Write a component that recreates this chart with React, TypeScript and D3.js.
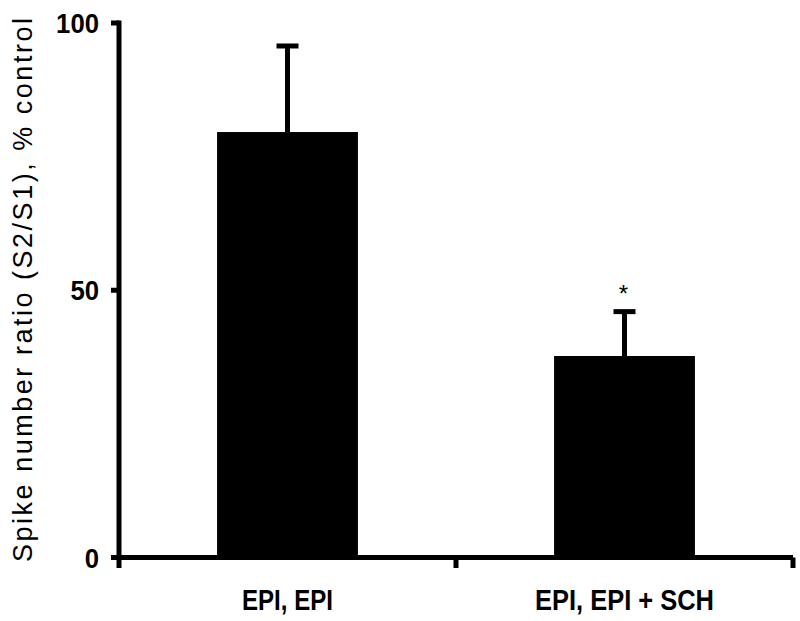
import { useEffect, useRef } from 'react';
import * as d3 from 'd3';

const categories = ['EPI, EPI', 'EPI, EPI + SCH'];
const means = [79.6, 37.7];
const errors = [16.1, 8.3];
const significant = [false, true];
const yTicks = [0, 50, 100];
const yLabel = 'Spike number ratio (S2/S1), % control';

export default function App() {
  const svgRef = useRef<SVGSVGElement | null>(null);

  useEffect(() => {
    if (!svgRef.current) return;
    const svg = d3.select(svgRef.current);
    svg.selectAll('*').remove();

    const width = 800;
    const height = 621;
    const left = 119;
    const right = 793;
    const font = '"Liberation Sans", Arial, sans-serif';

    const x = d3.scaleBand<string>().domain(categories).range([left, right]).padding(0);
    const y = d3.scaleLinear().domain([0, 100]).range([557.5, 23]);
    const barW = x.bandwidth() * 0.418;

    svg.attr('width', width).attr('height', height);

    // Bars
    const bars = svg.append('g');
    categories.forEach((c, i) => {
      const cx = x(c)! + x.bandwidth() / 2;
      bars
        .append('rect')
        .attr('x', cx - barW / 2)
        .attr('y', y(means[i]))
        .attr('width', barW)
        .attr('height', y(0) - y(means[i]))
        .attr('fill', '#000');

      // error bar (upper only)
      const top = y(means[i] + errors[i]);
      bars
        .append('line')
        .attr('x1', cx)
        .attr('x2', cx)
        .attr('y1', y(means[i]))
        .attr('y2', top)
        .attr('stroke', '#000')
        .attr('stroke-width', 5);
      bars
        .append('line')
        .attr('x1', cx - 11)
        .attr('x2', cx + 11)
        .attr('y1', top)
        .attr('y2', top)
        .attr('stroke', '#000')
        .attr('stroke-width', 5);

      if (significant[i]) {
        bars
          .append('text')
          .attr('x', cx - 1)
          .attr('y', top - 10)
          .attr('text-anchor', 'middle')
          .attr('font-family', font)
          .attr('font-size', 24)
          .attr('fill', '#000')
          .text('*');
      }

      // category label
      svg
        .append('text')
        .attr('x', cx)
        .attr('y', 610)
        .attr('text-anchor', 'middle')
        .attr('font-family', font)
        .attr('font-weight', 'bold')
        .attr('font-size', 29)
        .attr('textLength', i === 0 ? 91 : 179)
        .attr('lengthAdjust', 'spacingAndGlyphs')
        .attr('fill', '#000')
        .text(c);
    });

    // Y axis
    const axes = svg.append('g').attr('stroke', '#000').attr('stroke-width', 5).attr('fill', 'none');
    axes.append('line').attr('x1', left).attr('x2', left).attr('y1', y(100) - 2.5).attr('y2', 568);
    yTicks.forEach((t) => {
      axes
        .append('line')
        .attr('x1', left - 8)
        .attr('x2', left)
        .attr('y1', y(t))
        .attr('y2', y(t));
      svg
        .append('text')
        .attr('x', 99)
        .attr('y', y(t) + 10)
        .attr('text-anchor', 'end')
        .attr('font-family', font)
        .attr('font-weight', 'bold')
        .attr('font-size', 28)
        .attr('textLength', String(t).length * 14.3)
        .attr('lengthAdjust', 'spacingAndGlyphs')
        .attr('fill', '#000')
        .text(t);
    });

    // X axis
    axes.append('line').attr('x1', left).attr('x2', right).attr('y1', y(0)).attr('y2', y(0));
    const bounds = [x(categories[1])!, right];
    bounds.forEach((bx) => {
      axes.append('line').attr('x1', bx).attr('x2', bx).attr('y1', y(0)).attr('y2', 568);
    });

    // Y label
    svg
      .append('text')
      .attr('transform', `translate(32,${290}) rotate(-90)`)
      .attr('text-anchor', 'middle')
      .attr('font-family', font)
      .attr('font-size', 27)
      .attr('textLength', 544)
      .attr('lengthAdjust', 'spacing')
      .attr('fill', '#000')
      .text(yLabel);
  }, []);

  return (
    <svg
      ref={svgRef}
      style={{ position: 'absolute', left: 0, top: 0, display: 'block', background: '#fff' }}
    />
  );
}
